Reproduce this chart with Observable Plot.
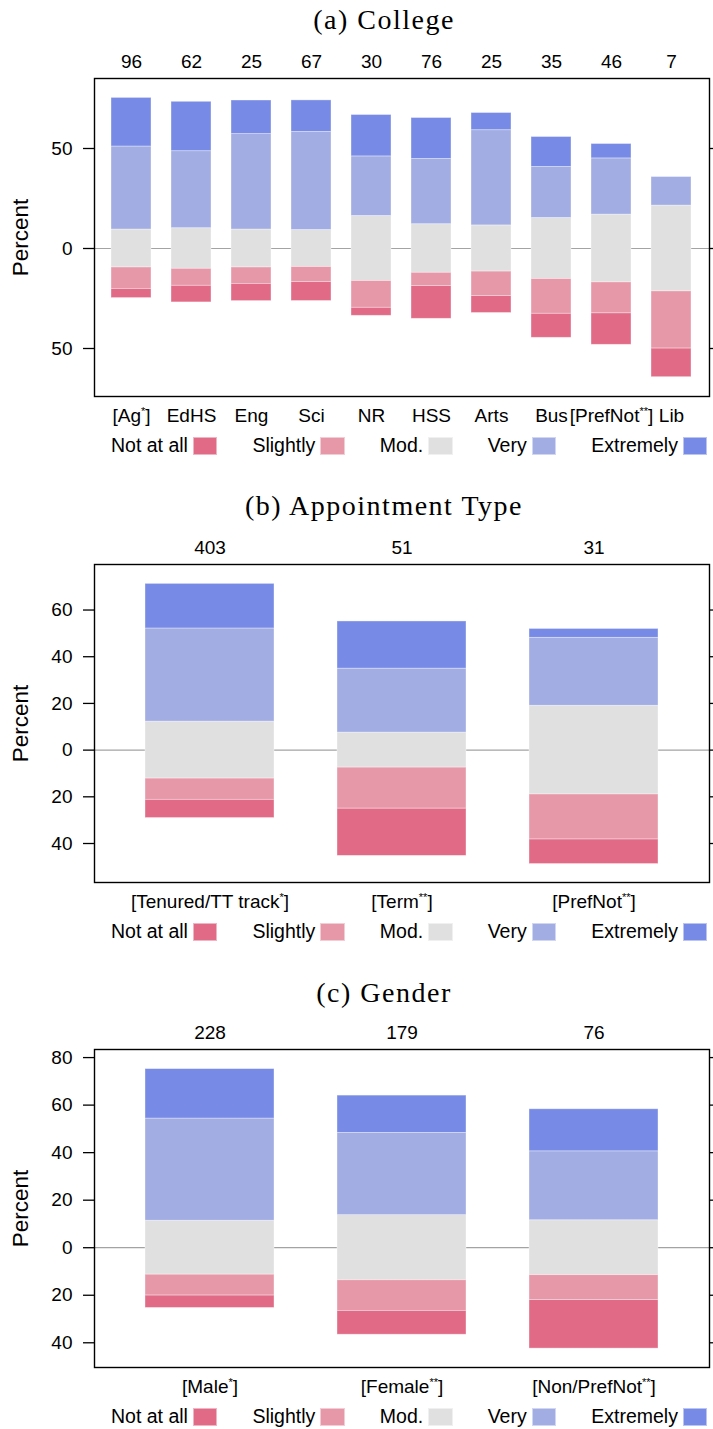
<!DOCTYPE html>
<html><head><meta charset="utf-8">
<script src="https://cdn.jsdelivr.net/npm/d3@7"></script>
<script src="https://cdn.jsdelivr.net/npm/@observablehq/plot@0.6"></script>
<style>
body{margin:0;background:#fff;}
#root{position:relative;width:713px;height:1429px;overflow:hidden;background:#fff;font-family:"Liberation Sans",Arial,sans-serif;}
.title{position:absolute;left:0;width:768px;text-align:center;font-family:"Liberation Serif",serif;font-size:28px;line-height:28px;letter-spacing:1.5px;color:#000;white-space:nowrap;}
.panel{position:absolute;left:0;}
.legend{position:absolute;left:111px;height:18px;display:flex;align-items:center;gap:35px;font-size:19.5px;line-height:19.5px;color:#000;white-space:nowrap;}
.legend .item{display:flex;align-items:center;}
.legend .sw{width:24.5px;height:18px;margin-left:5px;box-sizing:border-box;border:1px solid rgba(255,255,255,0.5);}
</style>
</head><body><div id="root"></div>
<script>
// ---------- data ----------
const levels = ["Not at all", "Slightly", "Mod.", "Very", "Extremely"];

const collegeCats = ["[Ag*]", "EdHS", "Eng", "Sci", "NR", "HSS", "Arts", "Bus", "[PrefNot**]", "Lib"];
const collegeN = [96, 62, 25, 67, 30, 76, 25, 35, 46, 7];
const collegeNotAtAll = [4.6, 8.3, 8.6, 9.5, 4.0, 16.4, 8.5, 12.0, 15.7, 14.3];
const collegeSlightly = [10.7, 8.5, 8.2, 7.5, 13.4, 6.6, 12.2, 17.4, 15.5, 28.6];
const collegeMod = [19.0, 20.3, 19.0, 18.5, 32.5, 24.3, 23.1, 30.5, 33.9, 42.9];
const collegeVery = [41.5, 38.5, 47.7, 49.0, 29.8, 32.6, 47.6, 25.5, 28.1, 14.3];
const collegeExtremely = [24.3, 24.7, 16.8, 15.8, 20.7, 20.5, 8.6, 15.0, 7.2, 0];
const collegeTicks = [-50, 0, 50];

const apptCats = ["[Tenured/TT track*]", "[Term**]", "[PrefNot**]"];
const apptN = [403, 51, 31];
const apptNotAtAll = [7.8, 20.2, 10.5];
const apptSlightly = [9.1, 17.6, 19.3];
const apptMod = [24.4, 15.0, 38.0];
const apptVery = [39.9, 27.4, 29.1];
const apptExtremely = [19.1, 20.2, 3.8];
const apptTicks = [-40, -20, 0, 20, 40, 60];

const genderCats = ["[Male*]", "[Female**]", "[Non/PrefNot**]"];
const genderN = [228, 179, 76];
const genderNotAtAll = [5.2, 10.0, 20.4];
const genderSlightly = [8.8, 12.9, 10.5];
const genderMod = [22.7, 27.4, 23.1];
const genderVery = [43.0, 34.6, 29.0];
const genderExtremely = [20.8, 15.7, 17.7];
const genderTicks = [-40, -20, 0, 20, 40, 60, 80];

// ---------- styles ----------
const palette = ["#E16A86", "#E798A8", "#E0E0E0", "#A2ADE3", "#778AE6"];

function buildRows(cats, notv, sl, mod, very, ext) {
  const out = [];
  cats.forEach((c, i) => {
    const h = mod[i] / 2;
    const segs = [
      ["Mod.", -h, h],
      ["Very", h, h + very[i]],
      ["Extremely", h + very[i], h + very[i] + ext[i]],
      ["Slightly", -h, -h - sl[i]],
      ["Not at all", -h - sl[i], -h - sl[i] - notv[i]]
    ];
    for (const [level, a, b] of segs) if (Math.abs(b - a) > 0) out.push({cat: c, level, y1: a, y2: b});
  });
  return out;
}

const root = document.getElementById("root");

function panel(cfg) {
  const {title, titleTop, svgTop, cats, counts, rows, domain, ticks, legendTop} = cfg;
  const t = document.createElement("div");
  t.className = "title";
  t.style.top = titleTop + "px";
  t.textContent = title;
  root.appendChild(t);

  const mt = 38, frameH = 318, mb = 40;
  const svg = Plot.plot({
    width: 713, height: mt + frameH + mb,
    marginTop: mt, marginBottom: mb, marginLeft: 94, marginRight: 4,
    style: {fontFamily: "'Liberation Sans', Arial, sans-serif", fontSize: "19px", color: "black", background: "white", overflow: "visible"},
    x: {domain: cats, paddingInner: 0.33, paddingOuter: 0.265, axis: null},
    y: {domain, axis: null},
    color: {domain: levels, range: palette},
    marks: [
      Plot.ruleY([0], {stroke: "#a3a3a3", strokeWidth: 1.2}),
      Plot.barY(rows, {x: "cat", y1: "y1", y2: "y2", fill: "level", stroke: "white", strokeOpacity: 0.45, strokeWidth: 0.8}),
      Plot.frame({stroke: "black", strokeWidth: 1.4}),
      Plot.axisY(ticks, {anchor: "left", tickSize: 11, tickPadding: 11, strokeWidth: 1.3, tickFormat: d => Math.abs(d), label: "Percent", labelAnchor: "center", labelArrow: "none", labelOffset: 82}),
      Plot.axisY(ticks, {anchor: "right", tickSize: 11, strokeWidth: 1.3, tickFormat: () => "", label: null}),
      Plot.axisX(cats, {anchor: "bottom", tickSize: 0, tickPadding: 12, label: null}),
      Plot.axisX(cats, {anchor: "top", tickSize: 0, tickPadding: 11, label: null, tickFormat: d => String(counts[cats.indexOf(d)])})
    ]
  });
  const ns = "http://www.w3.org/2000/svg";
  svg.querySelectorAll("text").forEach(el => {
    if (el.querySelector("tspan")) return;
    const s = el.textContent;
    if (s === "Percent") { el.setAttribute("font-size", "22.5px"); return; }
    // superscript asterisks in category labels
    const m = s.match(/^(.*?)(\*+)(.*)$/);
    if (!m) return;
    el.textContent = "";
    const a = document.createElementNS(ns, "tspan"); a.textContent = m[1];
    const b = document.createElementNS(ns, "tspan"); b.textContent = m[2];
    b.setAttribute("font-size", "11px"); b.setAttribute("dy", "-7");
    const c = document.createElementNS(ns, "tspan"); c.textContent = m[3];
    c.setAttribute("dy", "7");
    el.append(a, b, c);
  });
  const wrap = document.createElement("div");
  wrap.className = "panel";
  wrap.style.top = svgTop + "px";
  wrap.appendChild(svg);
  root.appendChild(wrap);

  const lg = document.createElement("div");
  lg.className = "legend";
  lg.style.top = legendTop + "px";
  levels.forEach((lv, i) => {
    const it = document.createElement("div"); it.className = "item";
    const tx = document.createElement("span"); tx.textContent = lv;
    const sw = document.createElement("div"); sw.className = "sw"; sw.style.background = palette[i];
    it.append(tx, sw); lg.appendChild(it);
  });
  root.appendChild(lg);
}

panel({
  title: "(a) College", titleTop: 5.6, svgTop: 40,
  cats: collegeCats, counts: collegeN,
  rows: buildRows(collegeCats, collegeNotAtAll, collegeSlightly, collegeMod, collegeVery, collegeExtremely),
  domain: [-74, 85], ticks: collegeTicks, legendTop: 436.8
});
panel({
  title: "(b) Appointment Type", titleTop: 491.6, svgTop: 526,
  cats: apptCats, counts: apptN,
  rows: buildRows(apptCats, apptNotAtAll, apptSlightly, apptMod, apptVery, apptExtremely),
  domain: [-56.7, 79.5], ticks: apptTicks, legendTop: 922.8
});
panel({
  title: "(c) Gender", titleTop: 978.6, svgTop: 1011.3,
  cats: genderCats, counts: genderN,
  rows: buildRows(genderCats, genderNotAtAll, genderSlightly, genderMod, genderVery, genderExtremely),
  domain: [-50.4, 83.4], ticks: genderTicks, legendTop: 1408.2
});
</script>
</body></html>
